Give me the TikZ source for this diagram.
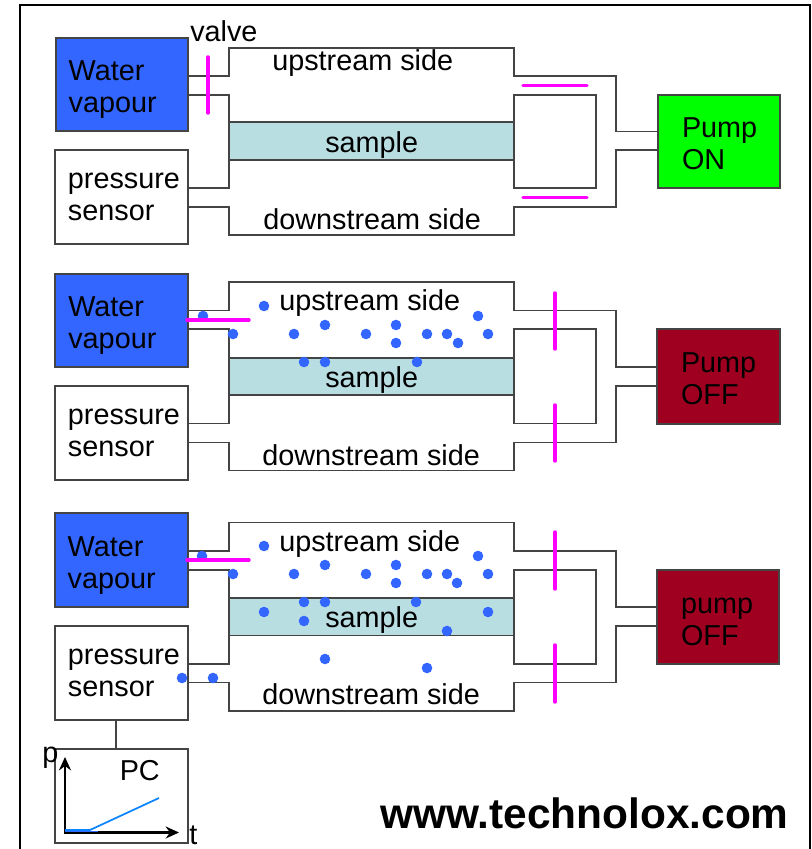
\documentclass[tikz,border=0pt]{standalone}
\usepackage{fontspec}
\setmainfont{Liberation Sans}
\usetikzlibrary{arrows.meta}
\definecolor{wline}{HTML}{444444}
\definecolor{wblue}{HTML}{3366FF}
\definecolor{wgreen}{HTML}{00FF00}
\definecolor{wred}{HTML}{A00020}
\definecolor{wsample}{HTML}{B8DEE2}
\definecolor{wmag}{HTML}{FF00FF}
\definecolor{wcurve}{HTML}{0A84FF}
\tikzset{
  boxnode/.style={draw=wline,line width=0.9pt,inner xsep=1.5pt,inner ysep=0pt,outer sep=0pt,align=left,
    font=\fontsize{21.6}{24}\selectfont},
  pipe/.style={draw=wline,line width=0.9pt,line join=miter},
  samplebox/.style={draw=wline,line width=0.9pt,fill=wsample},
  valvebar/.style={draw=wmag,line width=2.6pt,line cap=round},
  dot/.style={fill=wblue,draw=none},
  label/.style={anchor=base west,inner sep=0pt,font=\fontsize{21.6}{24}\selectfont},
  axis/.style={draw=black,line width=1.6pt,-{Stealth[length=10pt,width=9pt]}},
}
% name, x0, y0, x1, y1, fill, inset, line1, line2; \boxH sets how far the lines sit below centre
\newcommand{\boxH}{23pt}
\newcommand{\devicebox}[9]{%
  \node[boxnode,fill=#6,minimum width={(#4-#2)*0.75pt},minimum height={(#5-#3)*0.75pt},
        text width={(#4-#2)*0.75pt-3pt}] (#1) at ({(#2+#4)/2},{(#3+#5)/2})
    {\hspace*{#7pt}\rule{0pt}{\boxH}#8\\\hspace*{#7pt}\rule[-5pt]{0pt}{5pt}#9};}
\newcommand{\sensorbox}[5]{\renewcommand{\boxH}{16pt}\devicebox{#1}{#2}{#3}{#4}{#5}{white}{8.2}{pressure}{sensor}\renewcommand{\boxH}{23pt}}
\begin{document}
\begin{tikzpicture}[x=0.75pt,y=-0.75pt]
\clip (0,0) rectangle (812,849);
\fill[white] (0,0) rectangle (812,849);
\draw[black,line width=1.6pt] (20,5) rectangle (810,870);
\draw[black,line width=2.2pt] (20,5) -- (20,849);

% ---------- panel 1
\devicebox{w1}{56}{38}{188}{131}{wblue}{8}{Water}{vapour}
\sensorbox{s1}{55}{150}{188}{244}
\devicebox{m1}{658}{95}{780}{188}{wgreen}{16.5}{Pump}{ON}
\draw[samplebox] (229,122) rectangle (514,160);
\draw[pipe] (w1.east |- 0,76) -- (229,76) -- (229,48) -- (514,48) -- (514,76) -- (616,76) -- (616,131.5) -- (m1.west |- 0,131.5);
\draw[pipe] (w1.east |- 0,95) -- (229,95) -- (229,188) -- (s1.east |- 0,188);
\draw[pipe] (s1.east |- 0,207) -- (229,207) -- (229,235) -- (514,235) -- (514,207) -- (616,207) -- (616,150) -- (m1.west |- 0,150);
\draw[pipe] (514,95) rectangle (596,188);
\draw[valvebar] (208,57) -- (208,113);
\draw[valvebar] (523,85.5) -- (587,85.5);
\draw[valvebar] (523,197.5) -- (587,197.5);
\node[label] (t1a) at (190,42) {valve};
\node[label] (t1b) at (272,70) {upstream side};
\node[label] (t1c) at (325,152) {sample};
\node[label] (t1d) at (263,229.5) {downstream side};

% ---------- panel 2
\devicebox{w2}{55}{274}{188}{367}{wblue}{8.5}{Water}{vapour}
\sensorbox{s2}{55}{386}{188}{480}
\devicebox{m2}{657}{329}{780}{424}{wred}{16.5}{Pump}{OFF}
\draw[samplebox] (229,358) rectangle (514,395);
\draw[pipe] (w2.east |- 0,310.5) -- (229,310.5) -- (229,282) -- (514,282) -- (514,310.5) -- (616,310.5) -- (616,367) -- (m2.west |- 0,367);
\draw[pipe] (w2.east |- 0,329) -- (229,329) -- (229,423.5) -- (s2.east |- 0,423.5);
\draw[pipe] (s2.east |- 0,442.5) -- (229,442.5) -- (229,470.5) -- (514,470.5) -- (514,442.5) -- (616,442.5) -- (616,386) -- (m2.west |- 0,386);
\draw[pipe] (514,329) rectangle (596,423.5);
\foreach \p in {(264,306),(203,316),(233,334),(294,334),(325,325),(366,334),(396,325),(396,343),(304,362),(325,362),(478,316),(427,334),(447,334),(458,343),(488,334),(417,362)}
  \fill[dot] \p circle (5.3);
\draw[valvebar] (187,320) -- (249,320);
\draw[valvebar] (555,293) -- (555,349);
\draw[valvebar] (555,405) -- (555,461);
\node[label] (t2b) at (279,310.5) {upstream side};
\node[label] (t2c) at (325,387) {sample};
\node[label] (t2d) at (262,465) {downstream side};

% ---------- panel 3
\devicebox{w3}{55}{513}{188}{607}{wblue}{8}{Water}{vapour}
\sensorbox{s3}{55}{626}{188}{720}
\devicebox{m3}{657}{570}{779}{664}{wred}{16.5}{pump}{OFF}
\draw[samplebox] (229,598) rectangle (514,635.5);
\draw[pipe] (w3.east |- 0,551) -- (229,551) -- (229,522.5) -- (514,522.5) -- (514,551) -- (616,551) -- (616,607) -- (m3.west |- 0,607);
\draw[pipe] (w3.east |- 0,570) -- (229,570) -- (229,664) -- (s3.east |- 0,664);
\draw[pipe] (s3.east |- 0,682.5) -- (229,682.5) -- (229,711) -- (514,711) -- (514,682.5) -- (616,682.5) -- (616,626) -- (m3.west |- 0,626);
\draw[pipe] (514,570) rectangle (596,664);
\foreach \p in {(264,546),(202,556),(233,574),(294,574),(325,565),(366,574),(396,565),(396,583),(304,602),(325,602),(264,612),(304,621),(325,659),(182,678),(213,678),(478,556),(427,574),(447,574),(457,583),(488,574),(416,602),(488,612),(447,631),(427,668)}
  \fill[dot] \p circle (5.3);
\draw[valvebar] (187,560) -- (249,560);
\draw[valvebar] (555,532) -- (555,589);
\draw[valvebar] (555,645) -- (555,702);
\node[label] (t3b) at (279,551) {upstream side};
\node[label] (t3c) at (325,627.5) {sample};
\node[label] (t3d) at (262,704) {downstream side};

% ---------- PC
\node[draw=wline,line width=0.9pt,minimum width=99.75pt,minimum height=70.5pt,inner sep=0pt,outer sep=0pt] (pc) at (121.5,796) {};
\draw[pipe] (s3.south -| 116,0) -- (pc.north -| 116,0);
\draw[axis] (65,832.5) -- (65,757);
\draw[axis] (64,832.5) -- (179,832.5);
\draw[draw=wcurve,line width=1.3pt] (65,830) -- (90,830) -- (159,798);
\draw[draw=wblue,line width=0.8pt] (65,831.5) -- (98,831.5);
\node[label] (tpc) at (119.5,780) {PC};
\node[label] (tp) at (42,762) {p};
\node[label] (tt) at (189,844) {t};
\node[anchor=base west,inner sep=0pt,font=\fontsize{31.8}{36}\selectfont\bfseries] (url) at (380,828) {www.technolox.com};
\end{tikzpicture}
\end{document}
